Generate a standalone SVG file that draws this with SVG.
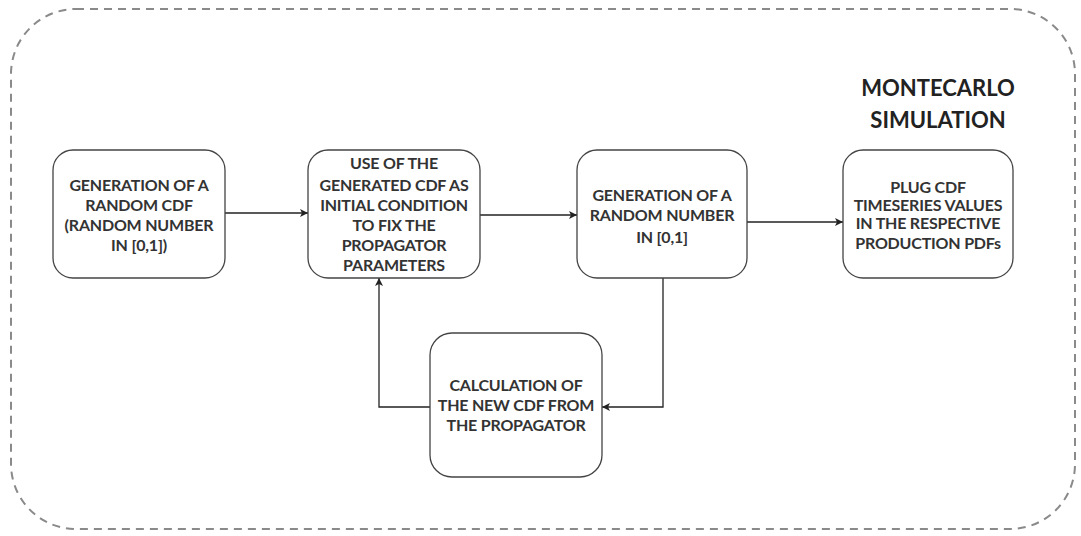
<svg xmlns="http://www.w3.org/2000/svg" width="1081" height="536" viewBox="0 0 1081 536">
<defs>
<style>
.box{fill:#fff;stroke:#444;stroke-width:1.3}
.t{font-family:Lato,"Liberation Sans",sans-serif;font-weight:bold;font-size:16px;fill:#333;text-anchor:middle;letter-spacing:-0.2px}
.title{font-family:Lato,"Liberation Sans",sans-serif;font-weight:bold;font-size:22px;fill:#222;text-anchor:middle}
.c{fill:none;stroke:#222;stroke-width:1.3}
</style>
<marker id="arr" viewBox="0 0 10 10" refX="10" refY="5" markerWidth="8" markerHeight="8" markerUnits="userSpaceOnUse" orient="auto">
<path d="M0,0 L10,5 L0,10 L2.5,5 Z" fill="#222"/>
</marker>
</defs>
<rect x="11" y="9" width="1064" height="520" rx="65" ry="65" fill="none" stroke="#8a8a8a" stroke-width="2" stroke-dasharray="8 6"/>
<g id="title">
<text class="title" x="938" y="96">MONTECARLO</text>
<text class="title" x="938" y="128">SIMULATION</text>
</g>
<g id="connectors">
<path class="c" d="M225,213 L308,213" marker-end="url(#arr)"/>
<path class="c" d="M480,215 L577,215" marker-end="url(#arr)"/>
<path class="c" d="M747,222 L843,222" marker-end="url(#arr)"/>
<path class="c" d="M663,278 L663,407 L602,407" marker-end="url(#arr)"/>
<path class="c" d="M430,407 L379,407 L379,278" marker-end="url(#arr)"/>
</g>
<g id="node1">
<rect class="box" x="53" y="150" width="172" height="128" rx="20"/>
<text class="t" x="139" y="191">GENERATION OF A</text>
<text class="t" x="139" y="211">RANDOM CDF</text>
<text class="t" x="139" y="231">(RANDOM NUMBER</text>
<text class="t" x="139" y="251">IN [0,1])</text>
</g>
<g id="node2">
<rect class="box" x="308" y="150" width="172" height="128" rx="20"/>
<text class="t" x="394" y="169">USE OF THE</text>
<text class="t" x="394" y="191">GENERATED CDF AS</text>
<text class="t" x="394" y="211">INITIAL CONDITION</text>
<text class="t" x="394" y="231">TO FIX THE</text>
<text class="t" x="394" y="251">PROPAGATOR</text>
<text class="t" x="394" y="271">PARAMETERS</text>
</g>
<g id="node3">
<rect class="box" x="577" y="150" width="170" height="128" rx="20"/>
<text class="t" x="662" y="201">GENERATION OF A</text>
<text class="t" x="662" y="221">RANDOM NUMBER</text>
<text class="t" x="662" y="243">IN [0,1]</text>
</g>
<g id="node4">
<rect class="box" x="843" y="150" width="170" height="128" rx="20"/>
<text class="t" x="928" y="193">PLUG CDF</text>
<text class="t" x="928" y="211">TIMESERIES VALUES</text>
<text class="t" x="928" y="229">IN THE RESPECTIVE</text>
<text class="t" x="928" y="249">PRODUCTION PDFs</text>
</g>
<g id="node5">
<rect class="box" x="430" y="333" width="172" height="144" rx="22"/>
<text class="t" x="516" y="391">CALCULATION OF</text>
<text class="t" x="516" y="411">THE NEW CDF FROM</text>
<text class="t" x="516" y="431">THE PROPAGATOR</text>
</g>
</svg>
